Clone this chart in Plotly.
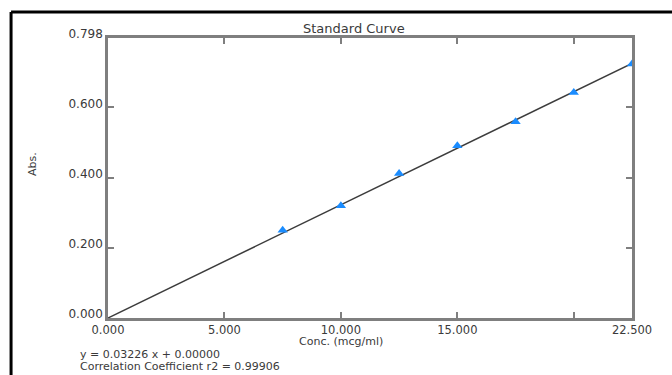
import plotly.graph_objects as go

# Data
conc = [7.5, 10.0, 12.5, 15.0, 17.5, 20.0, 22.5]
absorb = [0.250, 0.320, 0.412, 0.491, 0.559, 0.643, 0.724]
slope = 0.03226
intercept = 0.0
r2 = 0.99906
fit_x = [0.0, 22.5]
x_tickvals = [0, 5, 10, 15, 20, 22.5]
x_ticktext = ["0.000", "5.000", "10.000", "15.000", "", "22.500"]
y_tickvals = [0, 0.2, 0.4, 0.6, 0.798]
y_ticktext = ["0.000", "0.200", "0.400", "0.600", "0.798"]

FONT = "DejaVu Sans"
TXT = "#3a3a3a"
AX = "#7f7f7f"

fig = go.Figure()
fig.add_trace(go.Scatter(
    x=fit_x, y=[slope * v + intercept for v in fit_x], mode="lines",
    line=dict(color="#3c3c3c", width=1.5), showlegend=False, hoverinfo="skip"))
fig.add_trace(go.Scatter(
    x=conc, y=absorb, mode="markers",
    marker=dict(symbol="triangle-up", size=9, color="#1a8cff"),
    showlegend=False))

axis_common = dict(
    showgrid=False, zeroline=False, showline=True, linecolor=AX, linewidth=2.5,
    mirror="ticks", ticks="inside", ticklen=6, tickwidth=2, tickcolor=AX)

fig.update_layout(
    width=672, height=375,
    margin=dict(l=108, r=40, t=38, b=57),
    paper_bgcolor="white", plot_bgcolor="white",
    xaxis=dict(range=[0, 22.5], tickvals=x_tickvals, ticktext=x_ticktext,
               ticklabelstandoff=-1,
               tickfont=dict(family=FONT, size=11.5, color=TXT), **axis_common),
    yaxis=dict(range=[0, 0.798], tickvals=y_tickvals, ticktext=y_ticktext,
               ticklabelshift=-4,
               tickfont=dict(family=FONT, size=12, color=TXT), **axis_common),
)

fig.add_annotation(text="Standard Curve", xref="paper", yref="paper",
                   x=0.47, y=1.035, yanchor="middle", xanchor="center",
                   showarrow=False, font=dict(family=FONT, size=13, color=TXT))
fig.add_annotation(text="Abs.", xref="paper", yref="paper", textangle=-90,
                   x=-0.145, y=0.55, xanchor="center", yanchor="middle",
                   showarrow=False, font=dict(family=FONT, size=11, color=TXT))
fig.add_annotation(text="Conc. (mcg/ml)", xref="paper", yref="paper",
                   x=0.445, y=-0.083, xanchor="center", yanchor="middle",
                   showarrow=False, font=dict(family=FONT, size=11, color=TXT))
fig.add_annotation(text=f"y = {slope:.5f} x + {intercept:.5f}", xref="paper", yref="paper",
                   x=-0.057, y=-0.132, xanchor="left", yanchor="middle",
                   showarrow=False, font=dict(family=FONT, size=11, color=TXT))
fig.add_annotation(text=f"Correlation Coefficient r2 = {r2:.5f}", xref="paper", yref="paper",
                   x=-0.057, y=-0.174, xanchor="left", yanchor="middle",
                   showarrow=False, font=dict(family=FONT, size=11, color=TXT))

# Black frame (top and left edges)
fig.add_shape(type="line", xref="paper", yref="paper", x0=-0.185, x1=1.2,
              y0=1.093, y1=1.093, line=dict(color="black", width=3))
fig.add_shape(type="line", xref="paper", yref="paper", x0=-0.185, x1=-0.185,
              y0=1.093, y1=-0.3, line=dict(color="black", width=3))

fig.write_html("out.html")
